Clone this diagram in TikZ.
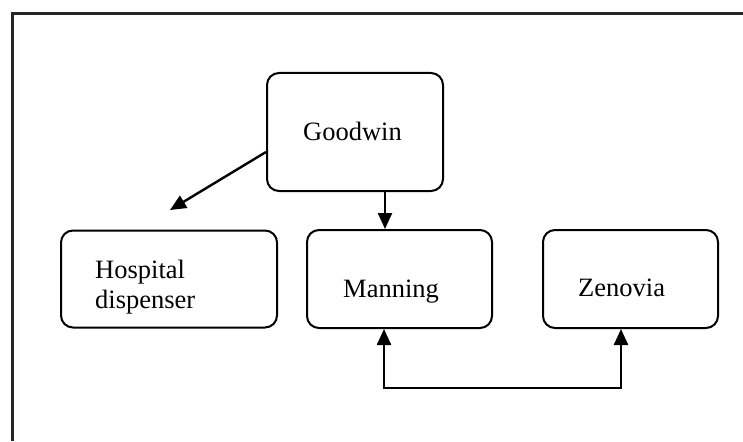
\documentclass[tikz,border=0pt]{standalone}
\usepackage{fontspec}
\setmainfont{Liberation Serif}
\usetikzlibrary{arrows.meta}
\tikzset{
  box/.style={draw=black, line width=2pt, rounded corners=12pt, inner sep=0pt},
  lbl/.style={inner sep=0pt, font=\fontsize{26.5}{30}\selectfont},
  conn/.style={draw=black, line width=2.4pt, -{Triangle[length=16pt,width=14pt]}},
  frame/.style={draw=black!85, line width=3pt}
}
\begin{document}
\begin{tikzpicture}[x=1pt,y=1pt]
\useasboundingbox (0,0) rectangle (743,-441);
\fill[white] (0,0) rectangle (743,-441);
\draw[frame] (12,-441) -- (12,-14) -- (743,-14);

\node[box, minimum width=176pt, minimum height=118pt] (good) at (355,-132) {};
\node[box, minimum width=216pt, minimum height=97pt] (hosp) at (169,-279) {};
\node[box, minimum width=185pt, minimum height=98pt] (man) at (399.5,-279) {};
\node[box, minimum width=175pt, minimum height=98pt] (zen) at (630.5,-279) {};

\node[lbl, anchor=base west] (goodt) at (303,-140) {Goodwin};
\node[lbl, anchor=base west, align=left] (hospt) at (95,-308) {Hospital\\dispenser};
\node[lbl, anchor=base west] (mant) at (343,-297) {Manning};
\node[lbl, anchor=base west] (zent) at (578,-296) {Zenovia};

\coordinate (hospTip) at (170,-210);
\draw[conn] ([yshift=-20pt]good.west) -- (hospTip);
\draw[conn] ([xshift=30pt]good.south) -- ([xshift=30pt]good.south |- man.north);
\draw[conn, {Triangle[length=16pt,width=14pt]}-{Triangle[length=16pt,width=14pt]}]
  ([xshift=-15.5pt]man.south) -- ++(0,-59) -| ([xshift=-9.5pt]zen.south);
\end{tikzpicture}
\end{document}
